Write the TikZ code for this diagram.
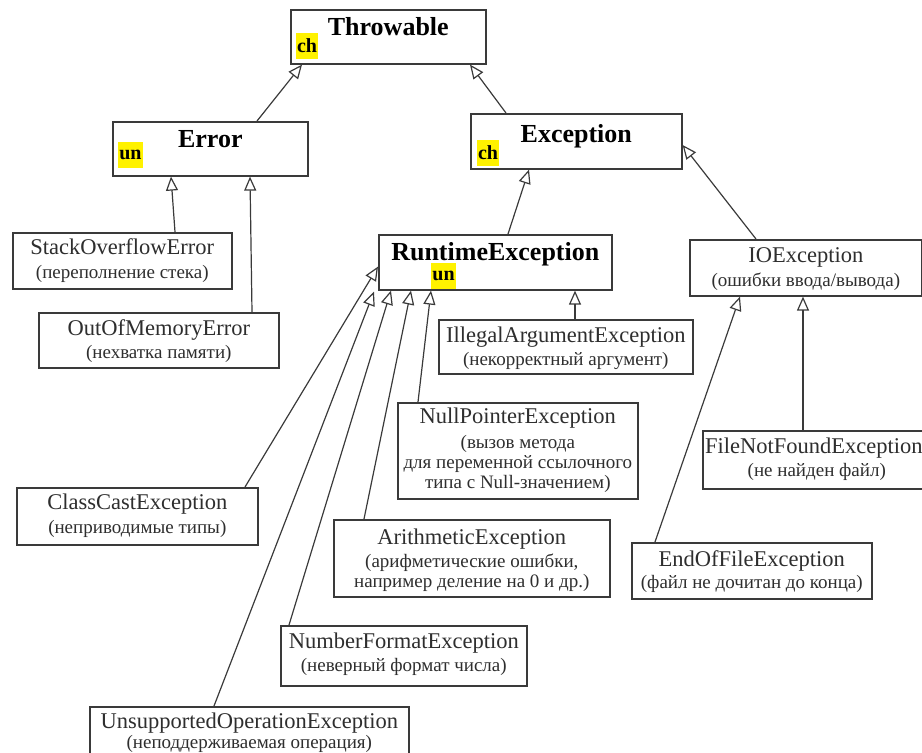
\documentclass[tikz,border=0pt]{standalone}
\usepackage{fontspec}
\setmainfont{Liberation Serif}
\usetikzlibrary{arrows.meta,calc}
\definecolor{ln}{HTML}{3A3A3A}
\definecolor{tx}{HTML}{2E2E2E}
\newcommand\clsbox[9]{%
  \node[box, anchor=north west, minimum width=#4pt-#2pt, minimum height=#5pt-#3pt] (#1) at (#2,#3) {};
  \node[nm, anchor=base] (#1n) at ([yshift=-#8pt]#1.north) {#6};
  \node[ds, anchor=north] (#1d) at ([yshift=13.1pt-#9pt]#1.north) {#7};
}
\begin{document}
\begin{tikzpicture}[x=1pt,y=-1pt,
  box/.style={draw=ln, line width=1.6pt, fill=white, inner sep=0pt},
  nm/.style={font=\fontsize{22.5}{24}\selectfont, text=tx, inner sep=0pt},
  ds/.style={font=\fontsize{19}{20}\selectfont, text=tx, inner sep=0pt, align=center},
  ttl/.style={font=\fontsize{26}{28}\selectfont\bfseries, text=black, inner sep=0pt},
  hl/.style={fill=yellow, font=\fontsize{20}{22}\selectfont\bfseries, text=black, inner xsep=1pt, inner ysep=0pt, minimum height=26pt},
  inh/.style={draw=ln, line width=1.2pt, -{Triangle[open, length=14pt, width=12pt]}}
]
\useasboundingbox (0,0) rectangle (922,753);
\clip (0,0) rectangle (922,753);

% main boxes
\node[box, anchor=north west, minimum width=195pt, minimum height=54pt] (thr) at (290,9) {};
\node[ttl, anchor=base] (thrt) at ([yshift=-26pt]thr.north) {Throwable};
\node[hl] (thrch) at (307,46) {ch};

\node[box, anchor=north west, minimum width=195pt, minimum height=54pt] (err) at (112,121) {};
\node[ttl, anchor=base] (errt) at ([yshift=-26pt]err.north) {Error};
\node[hl] (errun) at (130.5,155) {un};

\node[box, anchor=north west, minimum width=211pt, minimum height=55pt] (exc) at (470,113) {};
\node[ttl, anchor=base] (exct) at ([yshift=-29pt]exc.north) {Exception};
\node[hl] (excch) at (488,153) {ch};

\node[box, anchor=north west, minimum width=233pt, minimum height=55pt] (rt) at (378,234) {};
\node[ttl, anchor=base] (rtt) at ([yshift=-26pt]rt.north) {RuntimeException};
\node[hl] (rtun) at (443.5,275.5) {un};

% leaf boxes
\clsbox{soe}{12}{232}{231}{288}{StackOverflowError}{(переполнение стека)}{22}{46}
\clsbox{oom}{38}{312}{278}{367}{OutOfMemoryError}{(нехватка памяти)}{23}{46}
\clsbox{io}{689}{239}{921}{295}{IOException}{(ошибки ввода/вывода)}{23}{47}
\clsbox{ill}{438}{319}{692}{373}{IllegalArgumentException}{(некорректный аргумент)}{23}{46}
\clsbox{npe}{397}{402}{637}{498}{NullPointerException}{(вызов метода\\для переменной ссылочного\\типа с Null-значением)}{21}{46}
\node[box, anchor=north west, minimum width=228pt, minimum height=58pt] (fnf) at (702,430) {};
\node[nm, anchor=base west] (fnfn) at ([xshift=3pt,yshift=-23pt]fnf.north west) {FileNotFoundException};
\node[ds, anchor=north] (fnfd) at ([yshift=13.1pt-46pt]fnf.north) {(не найден файл)};
\clsbox{ccx}{16}{487}{257}{544}{ClassCastException}{(неприводимые типы)}{22}{46}
\clsbox{ari}{333}{519}{609}{596}{ArithmeticException}{(арифметические ошибки,\\например деление на 0 и др.)}{25}{48}
\clsbox{eof}{631}{542}{871}{598}{EndOfFileException}{(файл не дочитан до конца)}{24}{46}
\clsbox{nfe}{280}{625}{526}{685}{NumberFormatException}{(неверный формат числа)}{23}{46}
\clsbox{uoe}{89}{706}{408}{766}{UnsupportedOperationException}{(неподдерживаемая операция)}{22}{42}

% connectors
\draw[inh] ([xshift=145pt]err.north west) -- ([xshift=12pt]thr.south west);
\draw[inh] ([xshift=36pt]exc.north west) -- ([xshift=180pt]thr.south west);
\draw[inh] ([xshift=163pt]soe.north west) -- ([xshift=59pt]err.south west);
\draw[inh] ([xshift=214pt]oom.north west) -- ([xshift=138pt]err.south west);
\draw[inh] ([xshift=130pt]rt.north west) -- ([xshift=59pt]exc.south west);
\draw[inh] ([xshift=67pt]io.north west) -- ([yshift=-32pt]exc.north east);
\draw[inh] ([xshift=137pt]ill.north west) -- ([xshift=197pt]rt.south west);
\draw[inh] ([xshift=21pt]npe.north west) -- ([xshift=53pt]rt.south west);
\draw[inh] ([xshift=229pt]ccx.north west) -- ([yshift=24pt]rt.south west);
\draw[inh] ([xshift=31pt]ari.north west) -- ([xshift=33pt]rt.south west);
\draw[inh] ([xshift=9pt]nfe.north west) -- ([xshift=13pt]rt.south west);
\draw[inh] ([xshift=125pt]uoe.north west) -- ([xshift=-4pt,yshift=-1pt]rt.south west);
\draw[inh] ([xshift=24pt]eof.north west) -- ([xshift=51pt]io.south west);
\draw[inh] ([xshift=101pt]fnf.north west) -- ([xshift=114pt]io.south west);
\end{tikzpicture}
\end{document}
